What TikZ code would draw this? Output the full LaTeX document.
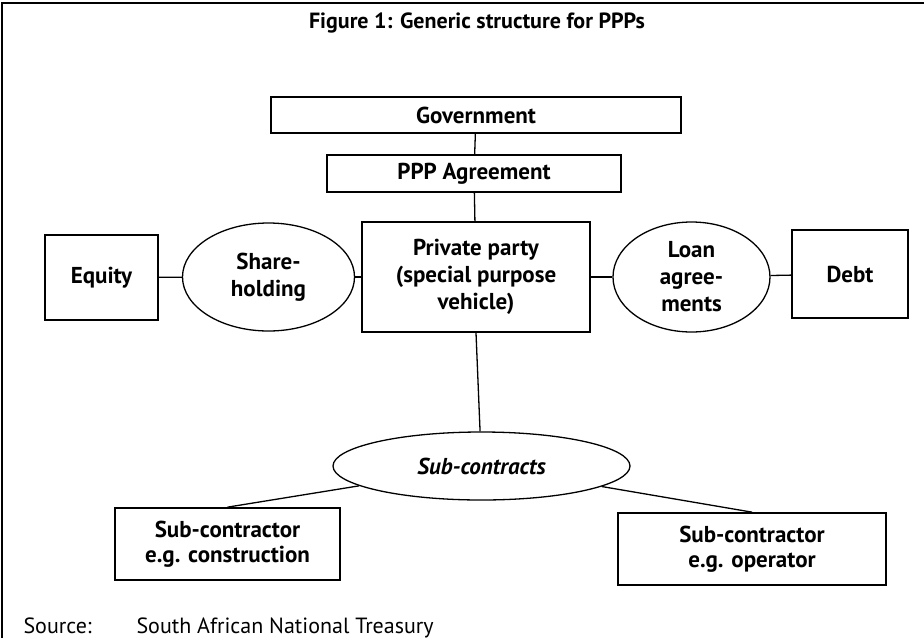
\documentclass[tikz,border=0pt]{standalone}
\usepackage{fontspec}
\setmainfont{PT Sans}
\usetikzlibrary{shapes.geometric}

\tikzset{
  box/.style={draw, line width=1.7pt, inner sep=0pt, align=center, font=\fontsize{23}{27}\selectfont\bfseries},
  oval/.style={draw, ellipse, line width=1.3pt, inner sep=0pt, align=center, font=\fontsize{23}{27}\selectfont\bfseries},
  link/.style={line width=1.3pt}
}

\begin{document}
\begin{tikzpicture}[x=1pt, y=-1pt]
    \useasboundingbox (0,0) rectangle (924,638);

    % Frame
    \draw[line width=2pt] (2,638) -- (2,3) -- (924,3);

    % Title
    \node[font=\fontsize{22}{26}\selectfont\bfseries] (title) at (477,23) {Figure 1: Generic structure for PPPs};

    % Government and agreement
    \node[box, minimum width=410pt, minimum height=36pt] (gov) at (476,115) {Government};
    \node[box, minimum width=294pt, minimum height=37pt] (ppp) at (474,173.5) {PPP Agreement};

    % Private party
    \node[box, minimum width=228pt, minimum height=110pt] (spv) at (476,277) {Private party\\(special purpose\\vehicle)};

    % Equity side
    \node[oval, minimum width=172pt, minimum height=108pt] (share) at (268.5,277) {Share-\\holding};
    \node[box, minimum width=113pt, minimum height=85pt] (equity) at (101.5,277.5) {Equity};

    % Debt side
    \node[oval, minimum width=157pt, minimum height=110pt] (loan) at (691.5,277) {Loan\\agree-\\ments};
    \node[box, minimum width=116pt, minimum height=88pt] (debt) at (850,274) {Debt};

    % Sub-contracts
    \node[oval, minimum width=297pt, minimum height=68pt] (subs) at (481.5,466) {\itshape Sub-contracts};
    \node[box, minimum width=225pt, minimum height=72pt, font=\fontsize{23}{25}\selectfont\bfseries] (con) at (227.5,544) {Sub-contractor\\e.g. construction};
    \node[box, minimum width=268pt, minimum height=72pt, font=\fontsize{23}{25}\selectfont\bfseries] (opr) at (752,549) {Sub-contractor\\e.g. operator};

    % Source
    \node[anchor=base west, font=\fontsize{22}{26}\selectfont] (src) at (20,633) {Source:};
    \node[anchor=base west, font=\fontsize{22}{26}\selectfont] (srcname) at (133,633) {South African National Treasury};

    % Links
    \draw[link] (gov) -- (ppp);
    \draw[link] (ppp) -- (spv);
    \draw[link] (equity) -- (share);
    \draw[link] (share) -- (spv);
    \draw[link] (spv) -- (loan);
    \draw[link] (loan) -- (debt);
    \draw[link] (spv.south) -- (subs);
    \draw[link] (subs) -- (con.north);
    \draw[link] (subs) -- (opr.north);
\end{tikzpicture}
\end{document}
